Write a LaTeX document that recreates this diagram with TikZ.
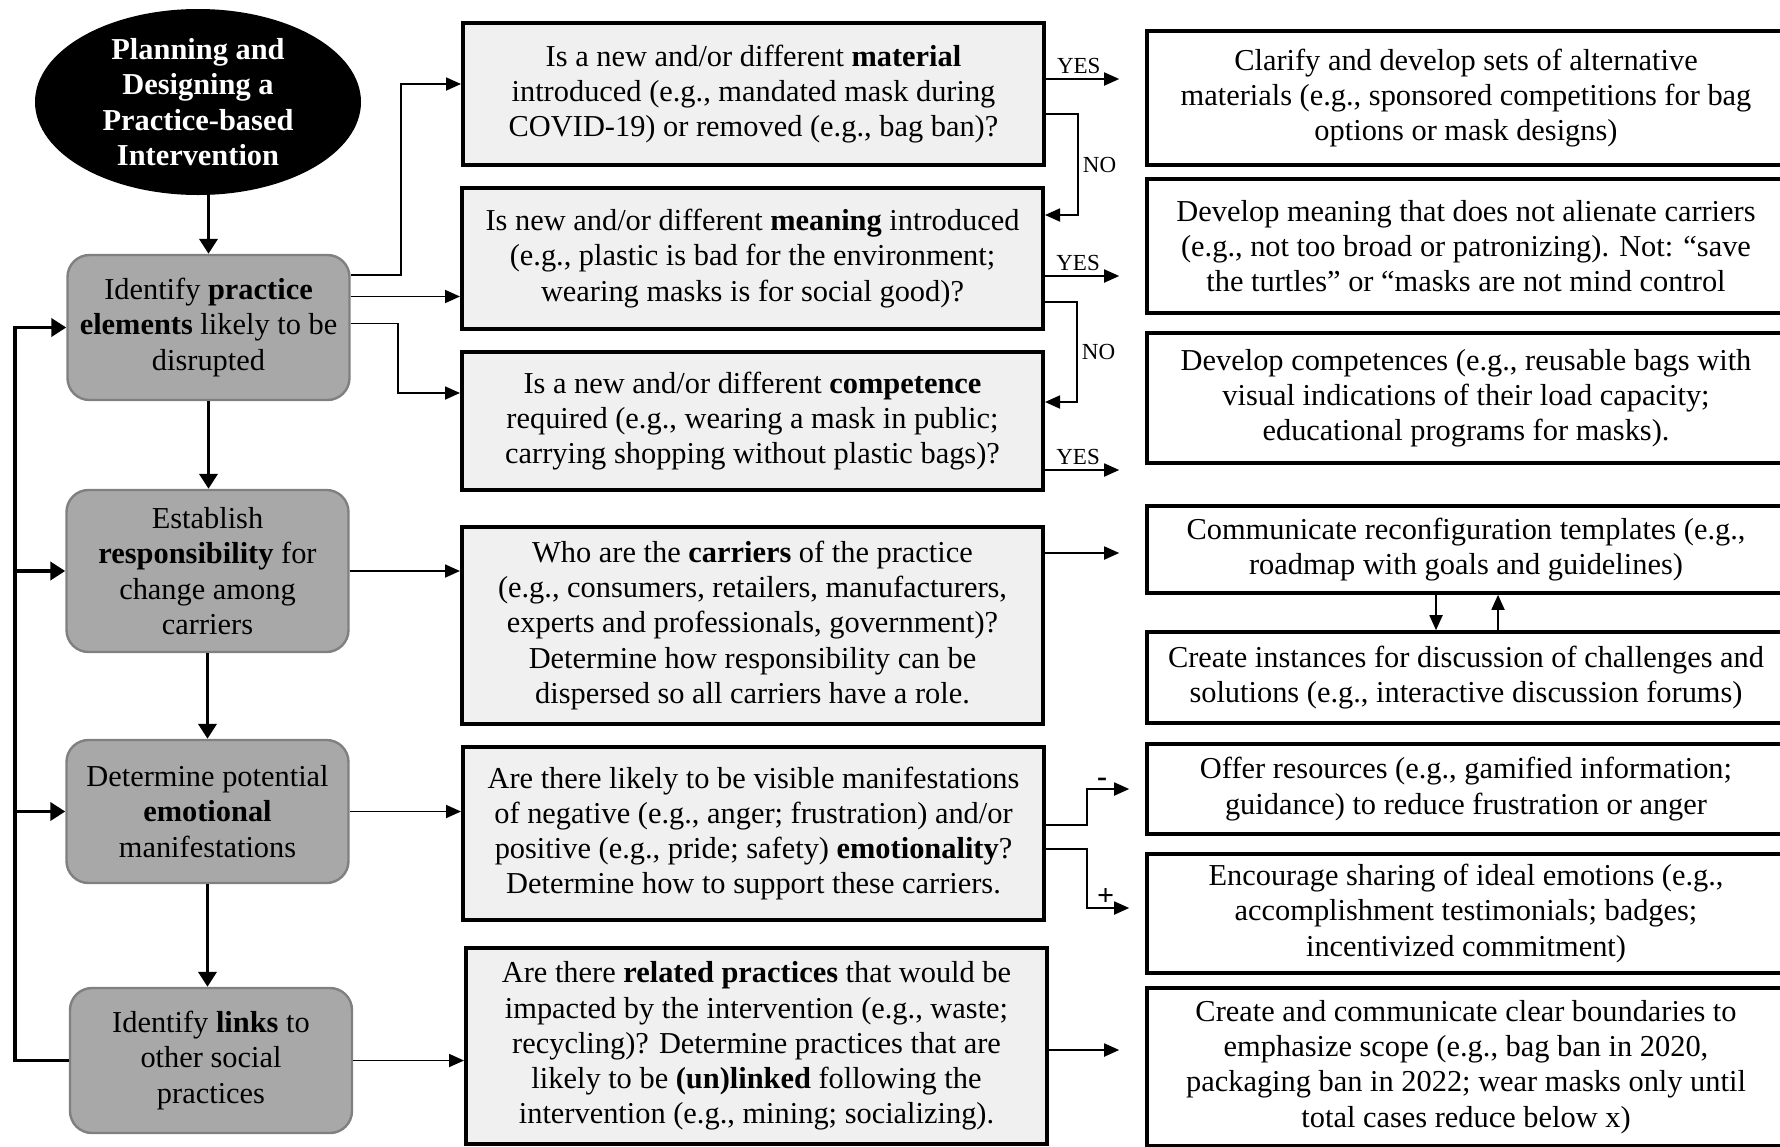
\documentclass[tikz,border=0pt]{standalone}
\usepackage{fontspec}
\setmainfont{Liberation Serif}
\usepackage{tikz}
\usepackage{xcolor}
\usetikzlibrary{arrows.meta,shapes.geometric}
\definecolor{step-fill}{gray}{0.66}
\definecolor{step-edge}{gray}{0.50}
\definecolor{question-fill}{gray}{0.94}
\newcommand{\flowfont}{\fontsize{15.2pt}{17.6pt}\selectfont}
\newcommand{\tagfont}{\fontsize{11.5pt}{13pt}\selectfont}
\newcommand{\signfont}{\fontsize{15pt}{15pt}\selectfont\bfseries}
\tikzset{
    start-oval/.style = {ellipse, fill=black, text=white, inner sep=0pt, align=center, font=\flowfont\bfseries},
    step-box/.style = {rectangle, rounded corners=11pt, draw=step-edge, fill=step-fill, line width=1.2pt, minimum width=141pt, inner sep=0pt, align=center, font=\flowfont},
    question-box/.style = {rectangle, draw=black, fill=question-fill, line width=2pt, minimum width=290.5pt, inner sep=0pt, align=center, font=\flowfont},
    action-box/.style = {rectangle, draw=black, fill=white, line width=1.8pt, minimum width=319pt, inner sep=0pt, align=center, font=\flowfont},
    main-arrow/.style = {line width=1.9pt, -{Triangle[length=7.5pt, width=9pt]}},
    thin-arrow/.style = {line width=0.9pt, -{Triangle[length=7.5pt, width=6.5pt]}},
    choice-tag/.style = {font=\tagfont, inner sep=2pt},
    sign-tag/.style = {font=\signfont, inner sep=1pt},
}
\begin{document}
\begin{tikzpicture}[x=0.5pt, y=-0.5pt]
\useasboundingbox (0,0) rectangle (1780,1146);

\node[start-oval, minimum width=163pt, minimum height=93pt] (plan) at (198,102) {Planning and\\Designing a\\Practice-based\\Intervention};

\node[step-box, minimum height=72.5pt] (elements) at (208.5,327.5) {Identify \textbf{practice}\\\textbf{elements} likely to be\\disrupted};
\node[step-box, minimum height=81pt] (responsibility) at (207.5,571) {Establish\\\textbf{responsibility} for\\change among\\carriers};
\node[step-box, minimum height=71.5pt] (emotional) at (207.5,811.5) {Determine potential\\\textbf{emotional}\\manifestations};
\node[step-box, minimum height=72.5pt] (links) at (211,1060.5) {Identify \textbf{links} to\\other social\\practices};

\node[question-box, minimum height=71pt] (material-q) at (753.5,94) {Is a new and/or different \textbf{material}\\introduced (e.g., mandated mask during\\COVID-19) or removed (e.g., bag ban)?};
\node[question-box, minimum height=70.5pt] (meaning-q) at (752.5,258.5) {Is new and/or different \textbf{meaning} introduced\\(e.g., plastic is bad for the environment;\\wearing masks is for social good)?};
\node[question-box, minimum height=69pt] (competence-q) at (752.5,421) {Is a new and/or different \textbf{competence}\\required (e.g., wearing a mask in public;\\carrying shopping without plastic bags)?};
\node[question-box, minimum height=98.5pt] (carriers-q) at (752.5,625.5) {Who are the \textbf{carriers} of the practice\\(e.g., consumers, retailers, manufacturers,\\experts and professionals, government)?\\Determine how responsibility can be\\dispersed so all carriers have a role.};
\node[question-box, minimum height=86.5pt] (emotion-q) at (753.5,833.5) {Are there likely to be visible manifestations\\of negative (e.g., anger; frustration) and/or\\positive (e.g., pride; safety) \textbf{emotionality}?\\Determine how to support these carriers.};
\node[question-box, minimum height=98pt] (related-q) at (756.5,1046) {Are there \textbf{related practices} that would be\\impacted by the intervention (e.g., waste;\\recycling)? Determine practices that are\\likely to be \textbf{(un)linked} following the\\intervention (e.g., mining; socializing).};

\node[action-box, minimum height=67pt] (material-a) at (1466,98) {Clarify and develop sets of alternative\\materials (e.g., sponsored competitions for bag\\options or mask designs)};
\node[action-box, minimum height=67pt] (meaning-a) at (1466,246) {Develop meaning that does not alienate carriers\\(e.g., not too broad or patronizing). Not: ``save\\the turtles'' or ``masks are not mind control};
\node[action-box, minimum height=65pt] (competence-a) at (1466,398) {Develop competences (e.g., reusable bags with\\visual indications of their load capacity;\\educational programs for masks).};
\node[action-box, minimum height=43.5pt] (templates-a) at (1466,549.5) {Communicate reconfiguration templates (e.g.,\\roadmap with goals and guidelines)};
\node[action-box, minimum height=45.5pt] (discussion-a) at (1466,677.5) {Create instances for discussion of challenges and\\solutions (e.g., interactive discussion forums)};
\node[action-box, minimum height=45pt] (resources-a) at (1466,789) {Offer resources (e.g., gamified information;\\guidance) to reduce frustration or anger};
\node[action-box, minimum height=59.5pt] (sharing-a) at (1466,913.5) {Encourage sharing of ideal emotions (e.g.,\\accomplishment testimonials; badges;\\incentivized commitment)};
\node[action-box, minimum height=79pt] (boundaries-a) at (1466,1067) {Create and communicate clear boundaries to\\emphasize scope (e.g., bag ban in 2020,\\packaging ban in 2022; wear masks only until\\total cases reduce below x)};

\draw[main-arrow] (plan.south -| elements.north) -- (elements.north);
\draw[main-arrow] (elements.south) -- (elements.south |- responsibility.north);
\draw[main-arrow] (responsibility.south) -- (responsibility.south |- emotional.north);
\draw[main-arrow] (emotional.south) -- (emotional.south |- links.north);
\draw[main-arrow] (links.west) -- ++(-27pt,0) coordinate (loop-foot) |- (elements.west);
\draw[main-arrow] (loop-foot |- responsibility.west) -- (responsibility.west);
\draw[main-arrow] (loop-foot |- emotional.west) -- (emotional.west);

\draw[thin-arrow] ([yshift=26.25pt]elements.east) -- ++(25.25pt,0) |- ([yshift=5pt]material-q.west);
\draw[thin-arrow] ([yshift=15.5pt]elements.east) -- ([yshift=15.5pt]elements.east -| meaning-q.west);
\draw[thin-arrow] ([yshift=2pt]elements.east) -- ++(23.75pt,0) |- ([yshift=14pt]competence-q.west);
\draw[thin-arrow] (responsibility.east) -- (responsibility.east -| carriers-q.west);
\draw[thin-arrow] (emotional.east) -- (emotional.east -| emotion-q.west);
\draw[thin-arrow] (links.east) -- (links.east -| related-q.west);

\draw[thin-arrow, shorten >=13pt] ([yshift=7.5pt]material-q.east) -- node[choice-tag, pos=0.33, above] {YES} ([yshift=7.5pt]material-q.east -| material-a.west);
\draw[thin-arrow] ([yshift=-10pt]material-q.east) -- ++(16pt,0) |- node[choice-tag, pos=0.25, right] {NO} ([yshift=21.75pt]meaning-q.east);
\draw[thin-arrow, shorten >=13pt] ([yshift=-8.75pt]meaning-q.east) -- node[choice-tag, pos=0.33, above] {YES} ([yshift=-8.75pt]meaning-q.east -| meaning-a.west);
\draw[thin-arrow] ([yshift=-21.75pt]meaning-q.east) -- ++(16pt,0) |- node[choice-tag, pos=0.25, right] {NO} ([yshift=9.5pt]competence-q.east);
\draw[thin-arrow, shorten >=13pt] ([yshift=-24.5pt]competence-q.east) -- node[choice-tag, pos=0.33, above] {YES} ([yshift=-24.5pt]competence-q.east -| competence-a.west);

\draw[thin-arrow, shorten >=13pt] ([yshift=36.25pt]carriers-q.east) -- ([yshift=36.25pt]carriers-q.east -| templates-a.west);
\draw[thin-arrow] ([xshift=-15pt]templates-a.south) -- ([xshift=-15pt]templates-a.south |- discussion-a.north);
\draw[thin-arrow] ([xshift=16pt]discussion-a.north) -- ([xshift=16pt]discussion-a.north |- templates-a.south);

\draw[thin-arrow, shorten >=8pt] ([yshift=4.25pt]emotion-q.east) -- ++(20.5pt,0) |- node[sign-tag, pos=0.63, above] {-} (resources-a.west);
\draw[thin-arrow, shorten >=8pt] ([yshift=-7.75pt]emotion-q.east) -- ++(20.5pt,0) |- node[sign-tag, pos=0.66, above] {+} ([yshift=2.75pt]sharing-a.west);
\draw[thin-arrow, shorten >=13pt] ([yshift=-2pt]related-q.east) -- ([yshift=-2pt]related-q.east -| boundaries-a.west);
\end{tikzpicture}
\end{document}
